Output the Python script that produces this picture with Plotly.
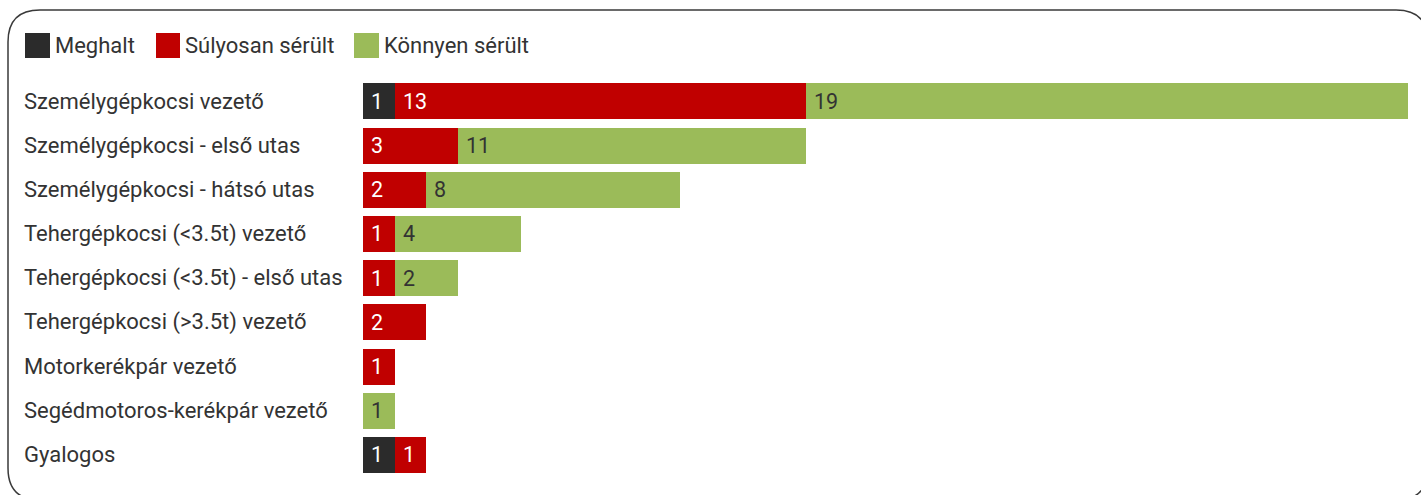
import plotly.graph_objects as go

W, H = 1421, 495

categories = [
    "Személygépkocsi vezető",
    "Személygépkocsi - első utas",
    "Személygépkocsi - hátsó utas",
    "Tehergépkocsi (<3.5t) vezető",
    "Tehergépkocsi (<3.5t) - első utas",
    "Tehergépkocsi (>3.5t) vezető",
    "Motorkerékpár vezető",
    "Segédmotoros-kerékpár vezető",
    "Gyalogos",
]
meghalt = [1, 0, 0, 0, 0, 0, 0, 0, 1]
sulyosan = [13, 3, 2, 1, 1, 2, 1, 0, 1]
konnyen = [19, 11, 8, 4, 2, 0, 0, 1, 0]

series_names = ["Meghalt", "Súlyosan sérült", "Könnyen sérült"]
series_values = [meghalt, sulyosan, konnyen]
colors = ["#2b2b2b", "#c00000", "#9bbb59"]
text_colors = ["#ffffff", "#ffffff", "#333333"]

FONT = "Roboto"
FS = 22
FS_VAL = 21.5

# plot area in pixels
x0_px, x1_px = 363, 1408
y_top_px, y_bot_px = 79.2, 477.1

fig = go.Figure()
for name, vals, col in zip(series_names, series_values, colors):
    fig.add_trace(go.Bar(
        y=list(range(len(categories))), x=vals, name=name, orientation="h",
        marker=dict(color=col, line=dict(width=0)), showlegend=False,
        hoverinfo="x+name",
    ))

annotations = []
# category labels
for i, c in enumerate(categories):
    annotations.append(dict(
        x=22 / W, xref="paper", y=i, yref="y", text=c, showarrow=False,
        xanchor="left", yanchor="middle",
        font=dict(family=FONT, size=FS, color="#333333"),
    ))
# value labels
for i in range(len(categories)):
    base = 0
    for s, vals in enumerate(series_values):
        v = vals[i]
        if v:
            annotations.append(dict(
                x=base, xref="x", y=i, yref="y", text=str(v), showarrow=False,
                xanchor="left", yanchor="middle", xshift=6,
                font=dict(family=FONT, size=FS_VAL, color=text_colors[s]),
            ))
        base += v

shapes = []
# legend
leg_sq = [(25, 50), (156, 180), (354, 379)]
leg_tx = [53, 183, 382]
for (a, b), tx, name, col in zip(leg_sq, leg_tx, series_names, colors):
    shapes.append(dict(type="rect", xref="paper", yref="paper",
                       x0=a / W, x1=b / W, y0=1 - 58 / H, y1=1 - 33 / H,
                       fillcolor=col, line=dict(width=0)))
    annotations.append(dict(
        x=tx / W, xref="paper", y=1 - 45.5 / H, yref="paper", text=name,
        showarrow=False, xanchor="left", yanchor="middle",
        font=dict(family=FONT, size=FS, color="#333333"),
    ))

# rounded border
L, T, R, B, r = 8, 10, 1428, 500, 32
def px(x, y):
    return f"{x / W:.5f},{1 - y / H:.5f}"
path = (f"M {px(L + r, T)} L {px(R - r, T)} Q {px(R, T)} {px(R, T + r)} "
        f"L {px(R, B - r)} Q {px(R, B)} {px(R - r, B)} "
        f"L {px(L + r, B)} Q {px(L, B)} {px(L, B - r)} "
        f"L {px(L, T + r)} Q {px(L, T)} {px(L + r, T)} Z")
shapes.append(dict(type="path", xref="paper", yref="paper", path=path,
                   line=dict(color="#3a3a3a", width=1.5), fillcolor="rgba(0,0,0,0)"))

fig.update_layout(
    width=W, height=H, autosize=False,
    margin=dict(l=0, r=0, t=0, b=0, pad=0),
    paper_bgcolor="white", plot_bgcolor="white",
    barmode="stack", bargap=0.185,
    xaxis=dict(domain=[x0_px / W, x1_px / W], range=[0, 33], visible=False, fixedrange=True),
    yaxis=dict(domain=[1 - y_bot_px / H, 1 - y_top_px / H], range=[len(categories) - 0.5, -0.5],
               visible=False, fixedrange=True),
    annotations=annotations, shapes=shapes,
    font=dict(family=FONT),
)

fig.write_html("out.html", config={"displayModeBar": False})
